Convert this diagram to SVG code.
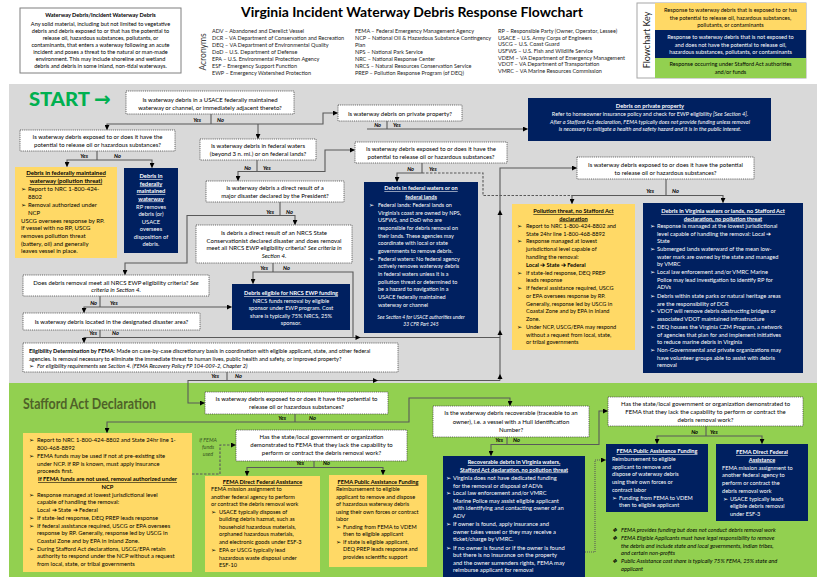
<svg xmlns="http://www.w3.org/2000/svg" width="817" height="580" viewBox="0 0 817 580">
<style>
svg{font-family:Lato,"Liberation Sans",sans-serif;font-size:5.8px}
.w{fill:#fff}
.b{font-weight:bold}
.i{font-style:italic}
.u{text-decoration:underline}
.m{text-anchor:middle}
.e{text-anchor:end}
.q{fill:#fff;stroke:#404040;stroke-width:0.8;stroke-dasharray:1 0.9}
.y{fill:#ffd966}
.n{fill:#002060}
.c path{fill:none;stroke:#595959;stroke-width:1.1}
.c path.ah{fill:#000;stroke:none}
.c path.d{stroke-dasharray:2.5 1.5}
.c path.dt{stroke-dasharray:1 1}
.lb{font-size:5.6px;font-weight:bold;font-style:italic}
.qt{font-size:6px}
.ac{font-size:5.5px;fill:#222}
</style>
<defs>
<marker id="a" viewBox="0 0 6 6" refX="5.5" refY="3" markerWidth="5" markerHeight="5" markerUnits="userSpaceOnUse" orient="auto"><path d="M0,0L6,3L0,6z" fill="#000"/></marker>
</defs>
<rect width="817" height="580" fill="#fff"/>
<rect x="9" y="84" width="808" height="299" fill="#d9d9d9"/>
<rect x="9" y="383" width="808" height="194" fill="#92d050"/>

<g id="definition">
<rect x="20" y="8" width="161" height="65" fill="#fff" stroke="#7f7f7f" stroke-width="1"/>
<text class="m b" x="100.5" y="17" font-size="5.6">Waterway Debris/Incident Waterway Debris</text>
<text class="m" x="100.5" y="25.5" font-size="5.6">Any solid material, including but not limited to vegetative</text>
<text class="m" x="100.5" y="32.5" font-size="5.6">debris and debris exposed to or that has the potential to</text>
<text class="m" x="100.5" y="40" font-size="5.6">release oil, hazardous substances, pollutants, or</text>
<text class="m" x="100.5" y="47" font-size="5.6">contaminants, that enters a waterway following an acute</text>
<text class="m" x="100.5" y="54" font-size="5.6">incident and poses a threat to the natural or man-made</text>
<text class="m" x="100.5" y="61" font-size="5.6">environment.  This may include shoreline and wetland</text>
<text class="m" x="100.5" y="68" font-size="5.6">debris and debris in some inland, non-tidal waterways.</text>
</g>

<g id="acronyms">
<text transform="translate(206,52) rotate(-90)" class="m" font-size="8.5" fill="#404040">Acronyms</text>
<text class="ac" x="212" y="33">ADV – Abandoned and Derelict Vessel</text>
<text class="ac" x="212" y="40">DCR – VA Department of Conservation and Recreation</text>
<text class="ac" x="212" y="47">DEQ – VA Department of Environmental Quality</text>
<text class="ac" x="212" y="54">DoD – U.S. Department of Defense</text>
<text class="ac" x="212" y="61">EPA – U.S. Environmental Protection Agency</text>
<text class="ac" x="212" y="68">ESF – Emergency Support Function</text>
<text class="ac" x="212" y="75">EWP – Emergency Watershed Protection</text>
<text class="ac" x="355" y="33">FEMA – Federal Emergency Management Agency</text>
<text class="ac" x="355" y="40">NCP – National Oil &amp; Hazardous Substance Contingency</text>
<text class="ac" x="355" y="47">Plan</text>
<text class="ac" x="355" y="54">NPS – National Park Service</text>
<text class="ac" x="355" y="61">NRC – National Response Center</text>
<text class="ac" x="355" y="68">NRCS – Natural Resources Conservation Service</text>
<text class="ac" x="355" y="75">PREP – Pollution Response Program (of DEQ)</text>
<text class="ac" x="498" y="33">RP – Responsible Party (Owner, Operator, Lessee)</text>
<text class="ac" x="498" y="39.5">USACE – U.S. Army Corps of Engineers</text>
<text class="ac" x="498" y="46">USCG – U.S. Coast Guard</text>
<text class="ac" x="498" y="53">USFWS – U.S. Fish and Wildlife Service</text>
<text class="ac" x="498" y="59.5">VDEM – VA Department of Emergency Management</text>
<text class="ac" x="498" y="66">VDOT – VA Department of Transportation</text>
<text class="ac" x="498" y="73">VMRC – VA Marine Resources Commission</text>
</g>

<text id="title" x="241" y="17" font-size="14" font-weight="bold" textLength="342" lengthAdjust="spacingAndGlyphs">Virginia Incident Waterway Debris Response Flowchart</text>

<g id="key">
<rect x="637" y="3" width="169" height="75" fill="#fff" stroke="#a6a6a6" stroke-width="1"/>
<rect x="655" y="3" width="151" height="27" class="y"/>
<rect x="655" y="30" width="151" height="28" class="n"/>
<rect x="655" y="58" width="151" height="20" fill="#92d050"/>
<text transform="translate(650,40) rotate(-90)" class="m" font-size="9" fill="#222">Flowchart Key</text>
<text class="m" x="730.5" y="12" font-size="5.6">Response to waterway debris that is exposed to or has</text>
<text class="m" x="730.5" y="19.5" font-size="5.6">the potential to release oil, hazardous substances,</text>
<text class="m" x="730.5" y="26.5" font-size="5.6">pollutants, or contaminants</text>
<text class="m w" x="730.5" y="39" font-size="5.6">Response to waterway debris that is not exposed to</text>
<text class="m w" x="730.5" y="46.5" font-size="5.6">and does not have the potential to release oil,</text>
<text class="m w" x="730.5" y="54" font-size="5.6">hazardous substances, pollutants, or contaminants</text>
<text class="m" x="730.5" y="66" font-size="5.6">Response occurring under Stafford Act authorities</text>
<text class="m" x="730.5" y="73.5" font-size="5.6">and/or funds</text>
</g>

<g id="start">
<text x="29" y="106" font-size="19" font-weight="900" fill="#00b050" textLength="61" lengthAdjust="spacingAndGlyphs">START</text>
<text x="94" y="106" font-size="20" font-weight="bold" fill="#00b050" style="font-family:'DejaVu Sans',sans-serif">→</text>
</g>
<text id="stafford-title" x="23" y="409" font-size="15" font-weight="bold" fill="#4f6228" textLength="133" lengthAdjust="spacingAndGlyphs">Stafford Act Declaration</text>

<g id="q1"><rect class="q" x="126" y="91" width="168" height="23"/>
<text class="m qt" x="210" y="102">Is waterway debris in a USACE federally maintained</text>
<text class="m qt" x="210" y="110">waterway or channel, or immediately adjacent thereto?</text></g>

<g id="q3"><rect class="q" x="338" y="105" width="124" height="16"/>
<text class="m qt" x="400" y="115.5">Is waterway debris on private property?</text></g>

<g id="private"><rect class="n" x="528" y="98" width="243" height="43"/>
<text class="m w b u" x="650" y="108">Debris on private property</text>
<text class="m w" x="650" y="116" font-size="5.5">Refer to homeowner insurance policy and check for EWP eligibility <tspan class="i">[See Section 4]</tspan>.</text>
<text class="m w i" x="650" y="123.5" font-size="5.5">After a Stafford Act declaration, FEMA typically does not provide funding unless removal</text>
<text class="m w i" x="650" y="131" font-size="5.5">is necessary to mitigate a health and safety hazard and it is in the public interest.</text></g>

<g id="q2"><rect class="q" x="20" y="130" width="155" height="21"/>
<text class="m qt" x="97.5" y="139">Is waterway debris exposed to or does it have the</text>
<text class="m qt" x="97.5" y="147">potential to release oil or hazardous substances?</text></g>

<g id="q4"><rect class="q" x="200" y="139" width="116" height="21"/>
<text class="m qt" x="258" y="147.5">Is waterway debris in federal waters</text>
<text class="m qt" x="258" y="155.5">(beyond 3 n. mi.) or on federal lands?</text></g>

<g id="q5"><rect class="q" x="355" y="142" width="152" height="21"/>
<text class="m qt" x="431" y="150.5">Is waterway debris exposed to or does it have the</text>
<text class="m qt" x="431" y="158.5">potential to release oil or hazardous substances?</text></g>

<g id="fed-waterway-pollution"><rect class="y" x="15" y="167" width="102" height="91"/>
<text class="m b u" x="66" y="175" font-size="6">Debris in federally maintained</text>
<text class="m b u" x="66" y="183" font-size="6">waterway (pollution threat)</text>
<text x="21" y="191" font-size="6">➢<tspan x="28">Report to NRC 1-800-424-</tspan></text>
<text x="28" y="199" font-size="6">8802</text>
<text x="21" y="207" font-size="6">➢<tspan x="28">Removal authorized under</tspan></text>
<text x="28" y="215" font-size="6">NCP</text>
<text x="21" y="222.5" font-size="6">USCG oversees response by RP.</text>
<text x="21" y="230" font-size="6">If vessel with no RP, USCG</text>
<text x="21" y="238" font-size="6">removes pollution threat</text>
<text x="21" y="245.5" font-size="6">(battery, oil) and generally</text>
<text x="21" y="253" font-size="6">leaves vessel in place.</text></g>

<g id="fed-waterway"><rect class="n" x="124" y="168" width="54" height="85"/>
<text class="m w b u" x="151" y="178">Debris in</text>
<text class="m w b u" x="151" y="185.5">federally</text>
<text class="m w b u" x="151" y="193">maintained</text>
<text class="m w b u" x="151" y="200.5">waterway</text>
<text class="m w" x="151" y="208.5">RP removes</text>
<text class="m w" x="151" y="216">debris (or)</text>
<text class="m w" x="151" y="223.5">USACE</text>
<text class="m w" x="151" y="231">oversees</text>
<text class="m w" x="151" y="238.5">disposition of</text>
<text class="m w" x="151" y="246">debris.</text></g>

<g id="q6"><rect class="q" x="206" y="181" width="138" height="21"/>
<text class="m qt" x="275" y="190">Is waterway debris a direct result of a</text>
<text class="m qt" x="275" y="198">major disaster declared by the President?</text></g>

<g id="fed-waters"><rect class="n" x="364" y="182" width="114" height="151"/>
<text class="m w b u" x="421" y="190" font-size="5.6">Debris in federal waters or on</text>
<text class="m w b u" x="421" y="198.5" font-size="5.6">federal lands</text>
<text class="w" x="369" y="207" font-size="5.5">➢<tspan x="378">Federal lands: Federal lands on</tspan></text>
<text class="w" x="378" y="214.7" font-size="5.5">Virginia's coast are owned by NPS,</text>
<text class="w" x="378" y="222.4" font-size="5.5">USFWS, and DoD who are</text>
<text class="w" x="378" y="230" font-size="5.5">responsible for debris removal on</text>
<text class="w" x="378" y="237.7" font-size="5.5">their lands. These agencies may</text>
<text class="w" x="378" y="245.4" font-size="5.5">coordinate with local or state</text>
<text class="w" x="378" y="253" font-size="5.5">governments to remove debris.</text>
<text class="w" x="369" y="260.7" font-size="5.5">➢<tspan x="378">Federal waters: No federal agency</tspan></text>
<text class="w" x="378" y="268.4" font-size="5.5">actively removes waterway debris</text>
<text class="w" x="378" y="276" font-size="5.5">in federal waters unless it is a</text>
<text class="w" x="378" y="283.7" font-size="5.5">pollution threat or determined to</text>
<text class="w" x="378" y="291.4" font-size="5.5">be a hazard to navigation in a</text>
<text class="w" x="378" y="299" font-size="5.5">USACE federally maintained</text>
<text class="w" x="378" y="306.7" font-size="5.5">waterway or channel</text>
<text class="m w i" x="421" y="319" font-size="5">See Section 4 for USACE authorities under</text>
<text class="m w i" x="421" y="326" font-size="5">33 CFR Part 245</text></g>

<g id="q11"><rect class="q" x="577" y="157" width="177" height="22"/>
<text class="m qt" x="665.5" y="167">Is waterway debris exposed to or does it have the potential</text>
<text class="m qt" x="665.5" y="175">to release oil or hazardous substances?</text></g>

<g id="pollution-no-stafford"><rect class="y" x="512" y="204" width="123" height="146"/>
<text class="m b u" x="573.5" y="213" font-size="5.7">Pollution threat, no Stafford Act</text>
<text class="m b u" x="573.5" y="220.5" font-size="5.7">declaration</text>
<text x="517" y="228" font-size="5.6">➢<tspan x="526">Report to NRC 1-800-424-8802 and</tspan></text>
<text x="526" y="235.5" font-size="5.6">State 24hr line 1-800-468-8892</text>
<text x="517" y="243" font-size="5.6">➢<tspan x="526">Response managed at lowest</tspan></text>
<text x="526" y="251" font-size="5.6">jurisdictional level capable of</text>
<text x="526" y="259" font-size="5.6">handling the removal:</text>
<text class="b" x="526" y="266.5" font-size="5.6">Local ➔ State ➔ Federal</text>
<text x="517" y="275" font-size="5.6">➢<tspan x="526">If state-led response,  DEQ PREP</tspan></text>
<text x="526" y="282" font-size="5.6">leads response</text>
<text x="517" y="290" font-size="5.6">➢<tspan x="526">If federal assistance required, USCG</tspan></text>
<text x="526" y="298" font-size="5.6">or EPA oversees response by RP.</text>
<text x="526" y="305.5" font-size="5.6">Generally, response led by USCG in</text>
<text x="526" y="313" font-size="5.6">Coastal Zone and by EPA in Inland</text>
<text x="526" y="321" font-size="5.6">Zone.</text>
<text x="517" y="329" font-size="5.6">➢<tspan x="526">Under NCP, USCG/EPA may respond</tspan></text>
<text x="526" y="336.5" font-size="5.6">without a request from local, state,</text>
<text x="526" y="344" font-size="5.6">or tribal governments</text></g>

<g id="va-no-stafford"><rect class="n" x="643" y="203" width="160" height="170"/>
<text class="m w b u" x="723" y="213" font-size="5.7">Debris in Virginia waters or lands, no Stafford Act</text>
<text class="m w b u" x="723" y="220.5" font-size="5.7">declaration, no pollution threat</text>
<text class="w" x="650" y="228" font-size="5.7">➢<tspan x="657">Response is managed at the lowest jurisdictional</tspan></text>
<text class="w" x="657" y="235.5" font-size="5.7">level capable of handling the removal: Local ➔</text>
<text class="w" x="657" y="243" font-size="5.7">State</text>
<text class="w" x="650" y="251" font-size="5.7">➢<tspan x="657">Submerged lands waterward of the mean low-</tspan></text>
<text class="w" x="657" y="258.5" font-size="5.7">water mark are owned by the state and managed</text>
<text class="w" x="657" y="266" font-size="5.7">by VMRC</text>
<text class="w" x="650" y="274" font-size="5.7">➢<tspan x="657">Local law enforcement and/or VMRC Marine</tspan></text>
<text class="w" x="657" y="281.5" font-size="5.7">Police may lead investigation to identify RP for</text>
<text class="w" x="657" y="289" font-size="5.7">ADVs</text>
<text class="w" x="650" y="298" font-size="5.7">➢<tspan x="657">Debris within state parks or natural heritage areas</tspan></text>
<text class="w" x="657" y="305.5" font-size="5.7">are the responsibility of DCR</text>
<text class="w" x="650" y="313" font-size="5.7">➢<tspan x="657">VDOT will remove debris obstructing bridges or</tspan></text>
<text class="w" x="657" y="320.5" font-size="5.7">associated VDOT maintained infrastructure</text>
<text class="w" x="650" y="329" font-size="5.7">➢<tspan x="657">DEQ houses the Virginia CZM Program, a network</tspan></text>
<text class="w" x="657" y="336.5" font-size="5.7">of agencies that plan for and implement initiatives</text>
<text class="w" x="657" y="344" font-size="5.7">to reduce marine debris in Virginia</text>
<text class="w" x="650" y="352" font-size="5.7">➢<tspan x="657">Non-Governmental and private organizations may</tspan></text>
<text class="w" x="657" y="360" font-size="5.7">have volunteer groups able to assist with debris</text>
<text class="w" x="657" y="367" font-size="5.7">removal</text></g>

<g id="q7"><rect class="q" x="196" y="225" width="156" height="38"/>
<text class="m qt" x="274" y="235">Is debris a direct result of an NRCS State</text>
<text class="m qt" x="274" y="242.5">Conservationist declared disaster and does removal</text>
<text class="m qt" x="274" y="250">meet all NRCS EWP eligibility criteria? <tspan class="i">See criteria in</tspan></text>
<text class="m qt i" x="274" y="257.5">Section 4.</text></g>

<g id="q8"><rect class="q" x="23" y="275" width="186" height="21"/>
<text class="m qt" x="116" y="284.5">Does debris removal meet all NRCS EWP eligibility criteria? <tspan class="i">See</tspan></text>
<text class="m qt i" x="116" y="292">criteria in Section 4.</text></g>

<g id="nrcs"><rect class="n" x="232" y="284" width="118" height="46"/>
<text class="m w b u" x="291" y="295" font-size="5.6">Debris eligible for NRCS EWP funding</text>
<text class="m w" x="291" y="302.5" font-size="5.6">NRCS funds removal by eligible</text>
<text class="m w" x="291" y="310" font-size="5.6">sponsor under EWP program. Cost</text>
<text class="m w" x="291" y="317.5" font-size="5.6">share is typically 75% NRCS, 25%</text>
<text class="m w" x="291" y="325" font-size="5.6">sponsor.</text></g>

<g id="q9"><rect class="q" x="23" y="313" width="177" height="17"/>
<text class="m qt" x="111.5" y="324">Is waterway debris located in the designated disaster area?</text></g>

<g id="eligibility"><rect class="q" x="23" y="343" width="375" height="29"/>
<text x="29" y="353" font-size="5.6"><tspan class="b">Eligibility Determination by FEMA:</tspan> Made on case-by-case discretionary basis in coordination with eligible applicant, state, and other federal</text>
<text x="29" y="360.5" font-size="5.6">agencies. Is removal necessary to eliminate the immediate threat to human lives, public health and safety, or improved property?</text>
<text x="29" y="368" font-size="5.6">➢<tspan x="37" class="i">For eligibility requirements see Section 4. (FEMA Recovery Policy FP 104-009-2, Chapter 2)</tspan></text></g>

<g id="q10"><rect class="q" x="205" y="392" width="183" height="22"/>
<text class="m qt" x="296.5" y="401">Is waterway debris exposed to or does it have the potential to</text>
<text class="m qt" x="296.5" y="409">release oil or hazardous substances?</text></g>

<g id="q12"><rect class="q" x="433" y="406" width="156" height="31"/>
<text class="m qt" x="511" y="415">Is the waterway debris recoverable (traceable to an</text>
<text class="m qt" x="511" y="423.5">owner), i.e. a vessel with a Hull Identification</text>
<text class="m qt" x="511" y="431.5">Number?</text></g>

<g id="q14"><rect class="q" x="608" y="397" width="195" height="29"/>
<text class="m qt" x="705.5" y="405.5">Has the state/local government  or organization demonstrated to</text>
<text class="m qt" x="705.5" y="413.5">FEMA that they lack the capability to perform or contract the</text>
<text class="m qt" x="705.5" y="421.5">debris removal work?</text></g>

<g id="q13"><rect class="q" x="236" y="430" width="171" height="31"/>
<text class="m qt" x="321.5" y="439">Has the state/local government or organization</text>
<text class="m qt" x="321.5" y="447">demonstrated to FEMA that they lack the capability to</text>
<text class="m qt" x="321.5" y="455">perform or contract the debris removal work?</text></g>

<g id="stafford-pollution"><rect class="y" x="23" y="433" width="169" height="139"/>
<text x="29" y="442" font-size="5.8">➢<tspan x="37">Report to NRC 1-800-424-8802 and State 24hr line 1-</tspan></text>
<text x="37" y="450" font-size="5.8">800-468-8892</text>
<text x="29" y="458" font-size="5.8">➢<tspan x="37">FEMA funds may be used if not at pre-existing site</tspan></text>
<text x="37" y="465.5" font-size="5.8">under NCP.  If RP is known, must apply insurance</text>
<text x="37" y="473" font-size="5.8">proceeds first.</text>
<text class="m b u" x="107.5" y="481" font-size="5.8">If FEMA funds are not used, removal authorized under</text>
<text class="m b" x="107.5" y="488.5" font-size="5.8">NCP</text>
<text x="29" y="496.5" font-size="5.8">➢<tspan x="37">Response managed at lowest jurisdictional level</tspan></text>
<text x="37" y="504" font-size="5.8">capable of handling the removal:</text>
<text x="37" y="512" font-size="5.8">Local ➔ State ➔ Federal</text>
<text x="29" y="519.5" font-size="5.8">➢<tspan x="37">If state-led response, DEQ PREP leads response</tspan></text>
<text x="29" y="527.5" font-size="5.8">➢<tspan x="37">If federal assistance required, USCG or EPA oversees</tspan></text>
<text x="37" y="535" font-size="5.8">response by RP. Generally, response led by USCG in</text>
<text x="37" y="543" font-size="5.8">Coastal Zone and by EPA in Inland Zone.</text>
<text x="29" y="550.5" font-size="5.8">➢<tspan x="37">During Stafford Act declarations, USCG/EPA retain</tspan></text>
<text x="37" y="558" font-size="5.8">authority to respond under the NCP without a request</text>
<text x="37" y="566" font-size="5.8">from local, state, or tribal governments</text></g>

<g id="if-fema-label">
<text class="m i" x="208" y="442" font-size="5.3" fill="#375623">if FEMA</text>
<text class="m i" x="208" y="449" font-size="5.3" fill="#375623">funds</text>
<text class="m i" x="208" y="456" font-size="5.3" fill="#375623">used</text></g>

<g id="fema-direct-y"><rect class="y" x="205" y="476" width="115" height="96"/>
<text class="m b u" x="262.5" y="484" font-size="5.6">FEMA Direct Federal Assistance</text>
<text x="211" y="491" font-size="5.6">FEMA mission assignment to</text>
<text x="211" y="498.5" font-size="5.6">another federal agency to perform</text>
<text x="211" y="506" font-size="5.6">or contract the debris removal work</text>
<text x="211" y="513.5" font-size="5.6">➢<tspan x="219">USACE typically disposes of</tspan></text>
<text x="219" y="521" font-size="5.6">building debris hazmat, such as</text>
<text x="219" y="528.5" font-size="5.6">household hazardous materials,</text>
<text x="219" y="536" font-size="5.6">orphaned hazardous materials,</text>
<text x="219" y="543.5" font-size="5.6">and electronic goods under ESF-3</text>
<text x="211" y="552" font-size="5.6">➢<tspan x="219">EPA or USCG typically lead</tspan></text>
<text x="219" y="559.5" font-size="5.6">hazardous waste disposal under</text>
<text x="219" y="567" font-size="5.6">ESF-10</text></g>

<g id="fema-pa-y"><rect class="y" x="329" y="475" width="98" height="92"/>
<text class="m b u" x="378" y="484" font-size="5.6">FEMA Public Assistance Funding</text>
<text x="336" y="491" font-size="5.6">Reimbursement  to eligible</text>
<text x="336" y="498.5" font-size="5.6">applicant to remove and dispose</text>
<text x="336" y="506" font-size="5.6">of hazardous waterway debris</text>
<text x="336" y="513.5" font-size="5.6">using their own forces or contract</text>
<text x="336" y="521" font-size="5.6">labor</text>
<text x="336" y="528.5" font-size="5.6">➢<tspan x="343">Funding from FEMA to VDEM</tspan></text>
<text x="343" y="536" font-size="5.6">then to eligible applicant</text>
<text x="336" y="543.5" font-size="5.6">➢<tspan x="343">If state is eligible applicant,</tspan></text>
<text x="343" y="551" font-size="5.6">DEQ PREP leads response and</text>
<text x="343" y="558.5" font-size="5.6">provides scientific support</text></g>

<g id="recoverable"><rect class="n" x="443" y="456" width="142" height="121"/>
<text class="m w b u" x="514" y="464" font-size="5.6">Recoverable debris in Virginia waters,</text>
<text class="m w b u" x="514" y="471.5" font-size="5.6">Stafford Act declaration, no pollution threat</text>
<text class="w" x="446" y="480" font-size="5.8">➢<tspan x="453">Virginia does not have dedicated funding</tspan></text>
<text class="w" x="453" y="487.5" font-size="5.8">for the removal or disposal of ADVs</text>
<text class="w" x="446" y="495" font-size="5.8">➢<tspan x="453">Local law enforcement and/or VMRC</tspan></text>
<text class="w" x="453" y="502.5" font-size="5.8">Marine Police may assist eligible applicant</text>
<text class="w" x="453" y="510" font-size="5.8">with identifying and contacting owner of an</text>
<text class="w" x="453" y="517.5" font-size="5.8">ADV</text>
<text class="w" x="446" y="526" font-size="5.8">➢<tspan x="453">If owner is found, apply insurance and</tspan></text>
<text class="w" x="453" y="533.5" font-size="5.8">owner takes vessel or they may receive a</text>
<text class="w" x="453" y="541" font-size="5.8">ticket/charge by VMRC.</text>
<text class="w" x="446" y="549.5" font-size="5.8">➢<tspan x="453">If no owner is found or if the owner is found</tspan></text>
<text class="w" x="453" y="557" font-size="5.8">but there is no insurance on the property</text>
<text class="w" x="453" y="564.5" font-size="5.8">and the owner surrenders rights, FEMA may</text>
<text class="w" x="453" y="572" font-size="5.8">reimburse applicant for removal</text></g>

<g id="fema-pa-n"><rect class="n" x="606" y="444" width="102" height="68"/>
<text class="m w b u" x="657" y="453" font-size="5.6">FEMA Public Assistance Funding</text>
<text class="w" x="612" y="461" font-size="5.6">Reimbursement to eligible</text>
<text class="w" x="612" y="468.5" font-size="5.6">applicant  to remove and</text>
<text class="w" x="612" y="476" font-size="5.6">dispose of waterway debris</text>
<text class="w" x="612" y="484" font-size="5.6">using their own forces or</text>
<text class="w" x="612" y="491.5" font-size="5.6">contract labor</text>
<text class="w" x="612" y="499.5" font-size="5.6">➢<tspan x="619">Funding from FEMA to VDEM</tspan></text>
<text class="w" x="619" y="507" font-size="5.6">then to  eligible applicant</text></g>

<g id="fema-direct-n"><rect class="n" x="716" y="444" width="92" height="77"/>
<text class="m w b u" x="762" y="454" font-size="5.6">FEMA Direct Federal</text>
<text class="m w b u" x="762" y="461.5" font-size="5.6">Assistance</text>
<text class="w" x="722" y="469.5" font-size="5.6">FEMA mission assignment to</text>
<text class="w" x="722" y="477" font-size="5.6">another federal agency to</text>
<text class="w" x="722" y="485" font-size="5.6">perform or contract the</text>
<text class="w" x="722" y="492.5" font-size="5.6">debris removal work</text>
<text class="w" x="723" y="500.5" font-size="5.6">➢<tspan x="730">USACE typically leads</tspan></text>
<text class="w" x="730" y="508" font-size="5.6">eligible debris removal</text>
<text class="w" x="730" y="515.5" font-size="5.6">under ESF-3</text></g>

<g id="notes">
<text class="i" x="612" y="532" font-size="5.7">❖<tspan x="621">FEMA provides funding but does not conduct debris removal work</tspan></text>
<text class="i" x="612" y="540" font-size="5.7">❖<tspan x="621">FEMA Eligible Applicants must have legal responsibility to remove</tspan></text>
<text class="i" x="621" y="547.5" font-size="5.7">the debris and include state and local governments, Indian tribes,</text>
<text class="i" x="621" y="555" font-size="5.7">and certain non-profits</text>
<text class="i" x="612" y="563" font-size="5.7">❖<tspan x="621">Public Assistance cost share is typically 75% FEMA, 25% state and</tspan></text>
<text class="i" x="621" y="570.5" font-size="5.7">applicant</text></g>

<g id="connectors" class="c">
<path d="M211,114V124"/>
<path d="M211,124H107V129.5" marker-end="url(#a)"/>
<path d="M211,124H323V113H337.5" marker-end="url(#a)"/>
<path d="M258,124V138.5" marker-end="url(#a)"/>
<path d="M97,151V160"/>
<path d="M97,160H67V166.5" marker-end="url(#a)"/>
<path d="M97,160H152V167.5" marker-end="url(#a)"/>
<path d="M387,121V129"/>
<path d="M367,129H527.5" marker-end="url(#a)"/>
<path d="M257,160V171.5"/>
<path d="M257,171.5H238V180.5" marker-end="url(#a)"/>
<path d="M257,171.5H325V150H354.5" marker-end="url(#a)"/>
<path d="M422,163V173"/>
<path d="M422,173H397V181.5" marker-end="url(#a)"/>
<path class="d" d="M422,173H483V195.5H572"/>
<path d="M666,179V195.5"/>
<path d="M666,195.5H572V203.5" marker-end="url(#a)"/>
<path d="M666,195.5H723V202.5" marker-end="url(#a)"/>
<path d="M500,380.5V168H576.5" marker-end="url(#a)"/>
<path d="M280,202V215.5"/>
<path d="M280,215.5H187V263H125V274.5" marker-end="url(#a)"/>
<path d="M280,215.5H295V224.5" marker-end="url(#a)"/>
<path d="M273,263V272"/>
<path d="M273,272H253V283.5" marker-end="url(#a)"/>
<path d="M273,272H353V337.5H500"/>
<path d="M100,296V307"/>
<path d="M100,307H84V312.5" marker-end="url(#a)"/>
<path d="M100,307H231.5" marker-end="url(#a)"/>
<path d="M100,330V337.5"/>
<path d="M100,337.5H84V342.5" marker-end="url(#a)"/>
<path d="M100,337.5H353"/>
<path d="M227,372V380.5"/>
<path d="M227,380.5H188V403H204.5" marker-end="url(#a)"/>
<path d="M227,380.5H500"/>
<path class="ah" d="M355.5,335L360.5,337.5L355.5,340z"/>
<path class="ah" d="M373,378L378,380.5L373,383z"/>
<path class="ah" d="M497.5,379L500,374L502.5,379z"/>
<path class="ah" d="M497.5,335L500,330L502.5,335z"/>
<path class="ah" d="M497.5,215L500,210L502.5,215z"/>
<path d="M295,414V422"/>
<path d="M295,422H107V432.5" marker-end="url(#a)"/>
<path d="M295,422H409V398H510V405.5" marker-end="url(#a)"/>
<path class="d" d="M192,474H220V445H235.5" marker-end="url(#a)"/>
<path d="M314,461V467.5"/>
<path d="M314,467.5H247V475.5" marker-end="url(#a)"/>
<path d="M314,467.5H383V474.5" marker-end="url(#a)"/>
<path d="M507,437V444.5"/>
<path d="M507,444.5H491V455.5" marker-end="url(#a)"/>
<path d="M507,444.5H599V411H607.5" marker-end="url(#a)"/>
<path d="M706,426V436"/>
<path d="M706,436H657V443.5" marker-end="url(#a)"/>
<path d="M706,436H762V443.5" marker-end="url(#a)"/>
<path class="dt" d="M585,552H595V460H605.5" marker-end="url(#a)"/>
</g>

<g id="labels">
<text class="lb e" x="201" y="121.5">Yes</text><text class="lb" x="217" y="121.5">No</text>
<text class="lb e" x="88" y="158">Yes</text><text class="lb" x="114" y="158">No</text>
<text class="lb e" x="381" y="127">No</text><text class="lb" x="393" y="127">Yes</text>
<text class="lb e" x="251" y="169.5">No</text><text class="lb" x="263" y="169.5">Yes</text>
<text class="lb e" x="414" y="171">No</text><text class="lb" x="429" y="171">Yes</text>
<text class="lb e" x="274" y="213.5">Yes</text><text class="lb" x="286" y="213.5">No</text>
<text class="lb e" x="268" y="270">Yes</text><text class="lb" x="283" y="270">No</text>
<text class="lb e" x="97" y="304.5">No</text><text class="lb" x="110" y="304.5">Yes</text>
<text class="lb e" x="97" y="335">Yes</text><text class="lb" x="112" y="335">No</text>
<text class="lb e" x="219" y="378">Yes</text><text class="lb" x="235" y="378">No</text>
<text class="lb e" x="286" y="419.5">Yes</text><text class="lb" x="309" y="419.5">No</text>
<text class="lb e" x="304" y="465">Yes</text><text class="lb" x="323" y="465">No</text>
<text class="lb e" x="503" y="442">Yes</text><text class="lb" x="513" y="442">No</text>
<text class="lb e" x="698" y="433.5">No</text><text class="lb" x="710" y="433.5">Yes</text>
<text class="lb e" x="654" y="192.5">Yes</text><text class="lb" x="672" y="192.5">No</text>
</g>
</svg>
